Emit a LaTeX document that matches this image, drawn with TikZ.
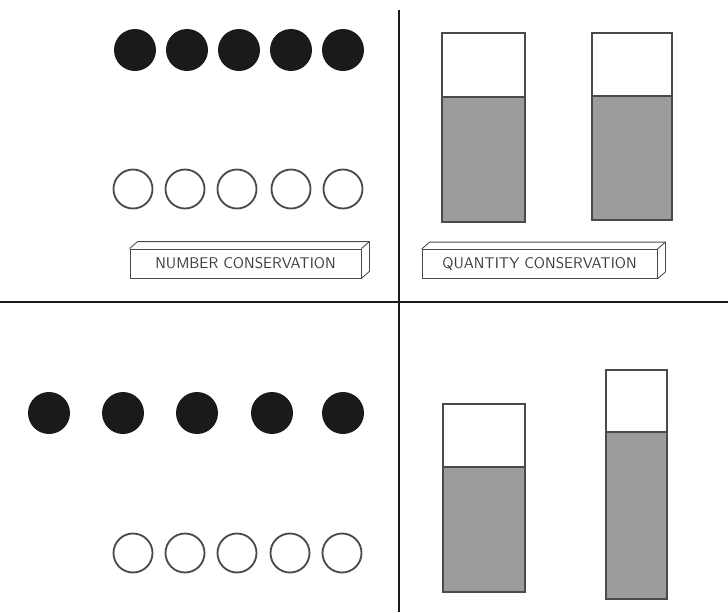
\documentclass[tikz,border=0pt]{standalone}
\usepackage{tikz}
\usetikzlibrary{positioning}
\definecolor{tinta}{HTML}{1A1A1A}
\definecolor{liquido}{HTML}{9C9C9C}
\definecolor{contorno}{HTML}{4A4A4A}

\begin{document}
\begin{tikzpicture}[
  x=0.025cm, y=-0.025cm,
  cheia/.style={circle,fill=tinta,minimum size=42*0.025cm,inner sep=0pt},
  vazia/.style={circle,draw=contorno,line width=1.3pt,minimum size=39*0.025cm,inner sep=0pt},
  copo/.style={draw=contorno,line width=1.1pt},
  rotulo/.style={draw=contorno,line width=0.6pt,minimum height=29*0.025cm,
                 inner sep=0pt,font=\sffamily\fontsize{11}{12}\selectfont,text=tinta!85},
  divisa/.style={draw=tinta,line width=1.2pt}
]
  \useasboundingbox (0,0) rectangle (728,612);

  % quadrantes
  \draw[divisa] (399,10) -- (399,612);
  \draw[divisa] (0,302) -- (728,302);

  % conservacao de numero, acima
  \foreach \x [count=\i] in {135,187,239,291,343}
    \node[cheia] (ca\i) at (\x,50) {};
  \foreach \x [count=\i] in {133,185,237,291,343}
    \node[vazia] (va\i) at (\x,189) {};

  % conservacao de numero, abaixo
  \foreach \x [count=\i] in {49,123,197,272,343}
    \node[cheia] (cb\i) at (\x,413) {};
  \foreach \x [count=\i] in {133,185,237,290,342}
    \node[vazia] (vb\i) at (\x,553) {};

  % rotulos em caixa
  \node[rotulo,minimum width=231*0.025cm] (numero) at (245.5,263.5) {NUMBER CONSERVATION};
  \node[rotulo,minimum width=235*0.025cm] (quantidade) at (539.5,264) {QUANTITY CONSERVATION};
  \foreach \r in {numero,quantidade} {
    \draw[contorno,line width=0.6pt] (\r.north west) -- ++(8,-7) -| ([xshift=8*0.025cm,yshift=7*0.025cm]\r.south east)
      -- (\r.south east);
    \draw[contorno,line width=0.6pt] (\r.north east) -- ++(8,-7);
  }

  % copos: esquerda, direita, topo, nivel, fundo
  \foreach \xa/\xb/\ya/\yn/\yb in {442/525/33/97/222, 592/672/33/96/220,
                                   443/525/404/467/592, 606/667/370/432/599} {
    \fill[liquido] (\xa,\yn) rectangle (\xb,\yb);
    \draw[copo] (\xa,\ya) rectangle (\xb,\yb);
    \draw[copo] (\xa,\yn) -- (\xb,\yn);
  }
\end{tikzpicture}
\end{document}
